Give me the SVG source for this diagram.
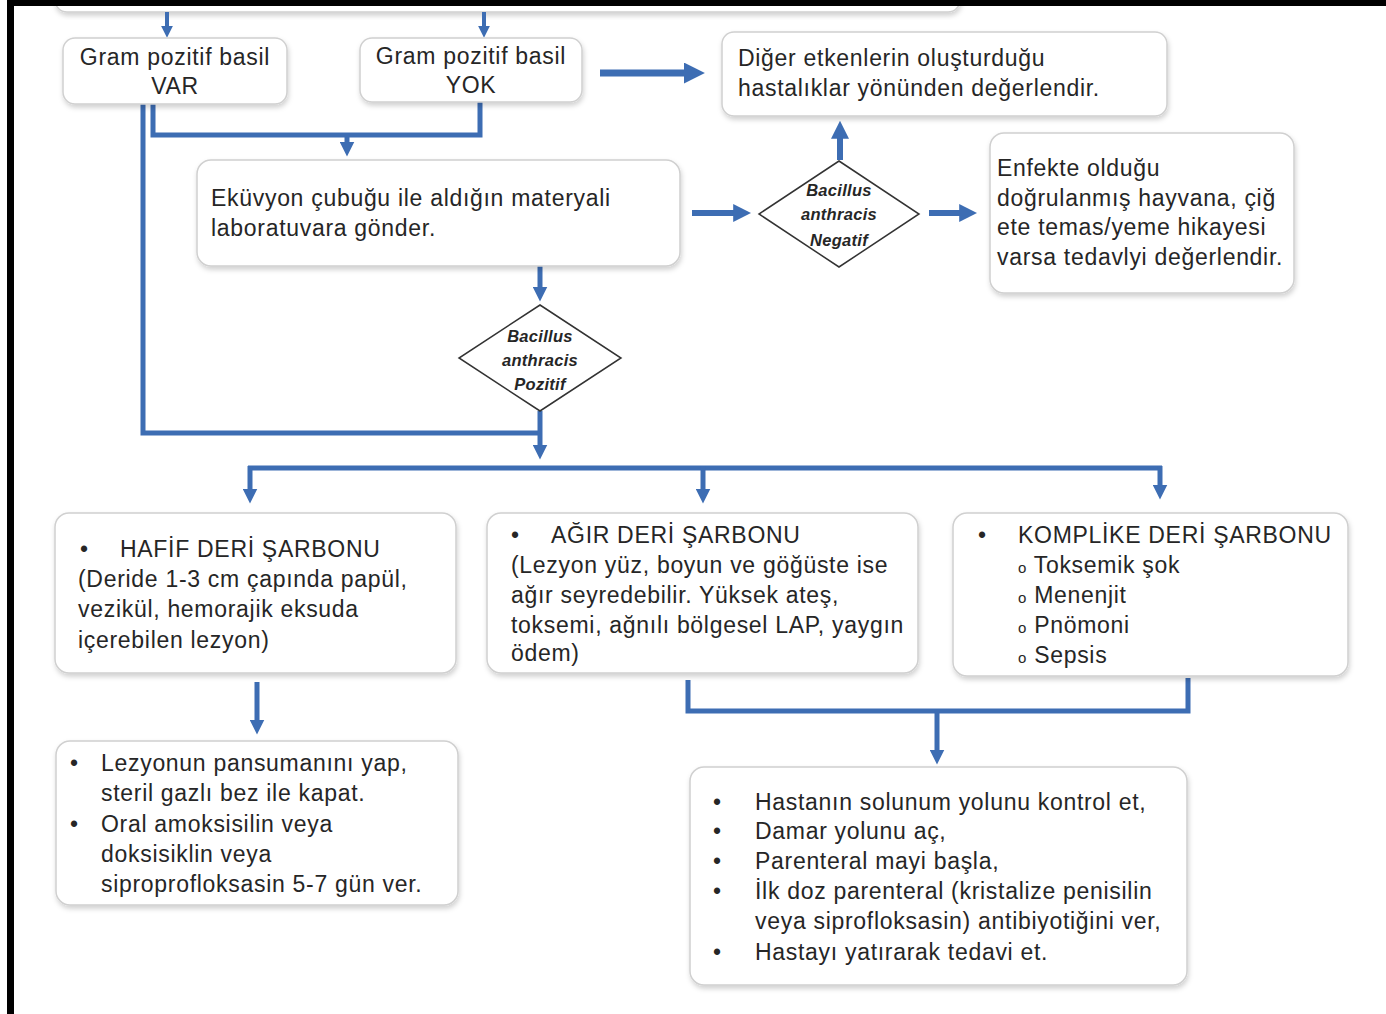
<svg xmlns="http://www.w3.org/2000/svg" width="1386" height="1014" viewBox="0 0 1386 1014">
<defs>
<style>
.box{fill:#fff;stroke:#d0d0d0;stroke-width:1.5;filter:url(#sh)}
.t{font-family:"Liberation Sans",Arial,sans-serif;font-size:23px;letter-spacing:0.7px;fill:#262626}
.d{font-family:"Liberation Sans",Arial,sans-serif;font-size:16.5px;font-weight:bold;font-style:italic;letter-spacing:0.3px;fill:#262626;text-anchor:middle}
.c{fill:none;stroke:#3d6db3;stroke-linejoin:miter}
.dia{fill:#fff;stroke:#333;stroke-width:1.5}
</style>
<filter id="sh" x="-5%" y="-10%" width="110%" height="125%">
<feDropShadow dx="1" dy="3" stdDeviation="2.5" flood-color="#000" flood-opacity="0.18"/>
</filter>
<marker id="ah" viewBox="0 0 10 10" refX="1" refY="5" markerWidth="3" markerHeight="3" orient="auto" markerUnits="strokeWidth">
<path d="M0,0 L10,5 L0,10 z" fill="#3d6db3"/>
</marker>
</defs>
<rect x="0" y="0" width="1386" height="1014" fill="#fff"/>

<g id="top-box"><rect class="box" x="55" y="-40" width="905" height="52" rx="12"/></g>

<g id="connectors">
<line class="c" x1="167" y1="12" x2="167" y2="27" stroke-width="4" marker-end="url(#ah)"/>
<line class="c" x1="484" y1="12" x2="484" y2="27" stroke-width="4" marker-end="url(#ah)"/>
<line class="c" x1="600" y1="73" x2="686" y2="73" stroke-width="7" marker-end="url(#ah)"/>
<path class="c" d="M143,104 V433 H540" stroke-width="5"/>
<path class="c" d="M153,104 V135 H480 V102" stroke-width="5"/>
<line class="c" x1="347" y1="135" x2="347" y2="143" stroke-width="5" marker-end="url(#ah)"/>
<line class="c" x1="692" y1="213" x2="735" y2="213" stroke-width="6" marker-end="url(#ah)"/>
<line class="c" x1="840" y1="160" x2="840" y2="137" stroke-width="6" marker-end="url(#ah)"/>
<line class="c" x1="929" y1="213" x2="961" y2="213" stroke-width="6" marker-end="url(#ah)"/>
<line class="c" x1="540" y1="266" x2="540" y2="288" stroke-width="5" marker-end="url(#ah)"/>
<line class="c" x1="540" y1="411" x2="540" y2="446" stroke-width="5" marker-end="url(#ah)"/>
<line class="c" x1="248" y1="468" x2="1162" y2="468" stroke-width="5"/>
<line class="c" x1="250" y1="466" x2="250" y2="490" stroke-width="5" marker-end="url(#ah)"/>
<line class="c" x1="703" y1="466" x2="703" y2="490" stroke-width="5" marker-end="url(#ah)"/>
<line class="c" x1="1160" y1="466" x2="1160" y2="486" stroke-width="5" marker-end="url(#ah)"/>
<line class="c" x1="257" y1="682" x2="257" y2="721" stroke-width="5" marker-end="url(#ah)"/>
<path class="c" d="M688,680 V711 H1188 V678" stroke-width="5"/>
<line class="c" x1="937" y1="711" x2="937" y2="751" stroke-width="5" marker-end="url(#ah)"/>
</g>

<g id="gram-var">
<rect class="box" x="63" y="38" width="224" height="66" rx="12"/>
<text class="t" x="175" y="65" text-anchor="middle">Gram pozitif basil</text>
<text class="t" x="175" y="94" text-anchor="middle">VAR</text>
</g>
<g id="gram-yok">
<rect class="box" x="360" y="38" width="222" height="64" rx="12"/>
<text class="t" x="471" y="64" text-anchor="middle">Gram pozitif basil</text>
<text class="t" x="471" y="93" text-anchor="middle">YOK</text>
</g>
<g id="diger">
<rect class="box" x="722" y="32" width="445" height="84" rx="12"/>
<text class="t" x="738" y="66">Diğer etkenlerin oluşturduğu</text>
<text class="t" x="738" y="96">hastalıklar yönünden değerlendir.</text>
</g>
<g id="ekuvyon">
<rect class="box" x="197" y="160" width="483" height="106" rx="14"/>
<text class="t" x="211" y="206">Eküvyon çubuğu ile aldığın materyali</text>
<text class="t" x="211" y="236">laboratuvara gönder.</text>
</g>
<g id="negatif">
<polygon class="dia" points="839,161 919,214 839,267 759,214"/>
<text class="d" x="839" y="196">Bacillus</text>
<text class="d" x="839" y="220">anthracis</text>
<text class="d" x="839" y="246">Negatif</text>
</g>
<g id="enfekte">
<rect class="box" x="990" y="133" width="304" height="160" rx="14"/>
<text class="t" x="997" y="176">Enfekte olduğu</text>
<text class="t" x="997" y="206">doğrulanmış hayvana, çiğ</text>
<text class="t" x="997" y="235">ete temas/yeme  hikayesi</text>
<text class="t" x="997" y="265">varsa tedavlyi değerlendir.</text>
</g>
<g id="pozitif">
<polygon class="dia" points="540,305 621,358 540,411 459,358"/>
<text class="d" x="540" y="342">Bacillus</text>
<text class="d" x="540" y="366">anthracis</text>
<text class="d" x="540" y="390">Pozitif</text>
</g>
<g id="hafif">
<rect class="box" x="55" y="513" width="401" height="160" rx="14"/>
<text class="t" x="80" y="557">•</text>
<text class="t" x="120" y="557">HAFİF DERİ ŞARBONU</text>
<text class="t" x="78" y="587">(Deride 1-3 cm  çapında papül,</text>
<text class="t" x="78" y="617">vezikül, hemorajik eksuda</text>
<text class="t" x="78" y="648">içerebilen lezyon)</text>
</g>
<g id="agir">
<rect class="box" x="487" y="513" width="431" height="160" rx="14"/>
<text class="t" x="511" y="543">•</text>
<text class="t" x="551" y="543">AĞIR DERİ ŞARBONU</text>
<text class="t" x="511" y="573">(Lezyon yüz, boyun ve göğüste ise</text>
<text class="t" x="511" y="603">ağır seyredebilir. Yüksek ateş,</text>
<text class="t" x="511" y="633">toksemi, ağnılı bölgesel LAP, yaygın</text>
<text class="t" x="511" y="661">ödem)</text>
</g>
<g id="komplike">
<rect class="box" x="953" y="513" width="395" height="163" rx="14"/>
<text class="t" x="978" y="543">•</text>
<text class="t" x="1018" y="543">KOMPLİKE DERİ ŞARBONU</text>
<text class="t" x="1018" y="573"><tspan font-size="15">o</tspan> Toksemik şok</text>
<text class="t" x="1018" y="603"><tspan font-size="15">o</tspan> Menenjit</text>
<text class="t" x="1018" y="633"><tspan font-size="15">o</tspan> Pnömoni</text>
<text class="t" x="1018" y="663"><tspan font-size="15">o</tspan> Sepsis</text>
</g>
<g id="lezyon">
<rect class="box" x="56" y="741" width="402" height="164" rx="14"/>
<text class="t" x="70" y="771">•</text>
<text class="t" x="101" y="771">Lezyonun pansumanını yap,</text>
<text class="t" x="101" y="801">steril gazlı bez ile kapat.</text>
<text class="t" x="70" y="832">•</text>
<text class="t" x="101" y="832">Oral amoksisilin veya</text>
<text class="t" x="101" y="862">doksisiklin  veya</text>
<text class="t" x="101" y="892">siproprofloksasin 5-7 gün ver.</text>
</g>
<g id="hasta">
<rect class="box" x="690" y="767" width="497" height="218" rx="14"/>
<text class="t" x="713" y="810">•</text>
<text class="t" x="755" y="810">Hastanın solunum yolunu kontrol et,</text>
<text class="t" x="713" y="839">•</text>
<text class="t" x="755" y="839">Damar yolunu aç,</text>
<text class="t" x="713" y="869">•</text>
<text class="t" x="755" y="869">Parenteral mayi başla,</text>
<text class="t" x="713" y="899">•</text>
<text class="t" x="755" y="899">İlk doz parenteral (kristalize penisilin</text>
<text class="t" x="755" y="929">veya siprofloksasin) antibiyotiğini ver,</text>
<text class="t" x="713" y="960">•</text>
<text class="t" x="755" y="960">Hastayı yatırarak tedavi et.</text>
</g>

<g id="frame">
<rect x="7" y="0" width="1379" height="6" fill="#000"/>
<rect x="7" y="0" width="7" height="1014" fill="#000"/>
</g>
</svg>
